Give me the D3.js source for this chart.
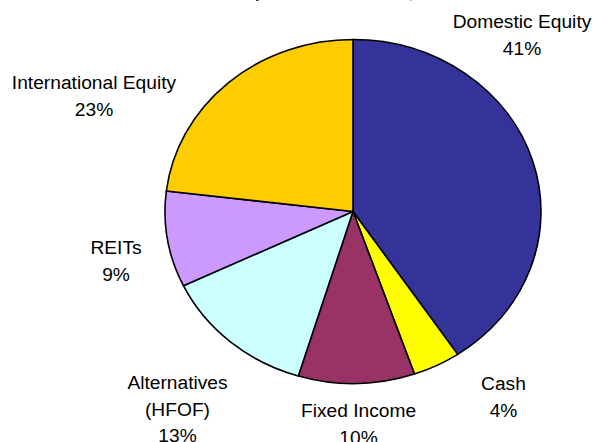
<!DOCTYPE html>
<html>
<head>
<meta charset="utf-8">
<script src="https://cdn.jsdelivr.net/npm/d3@7/dist/d3.min.js"></script>
<style>
  html, body { margin: 0; padding: 0; background: #fff; }
  svg { display: block; }
</style>
</head>
<body>
<svg id="chart" width="598" height="442"></svg>
<script>
// ---- data ----
const categories = ["Domestic Equity", "Cash", "Fixed Income", "Alternatives (HFOF)", "REITs", "International Equity"];
const values = [40.6, 4.1, 10.0, 13.2, 9.0, 23.1];
const colors = ["#333399", "#FFFF00", "#993366", "#CCFFFF", "#CC99FF", "#FFCC00"];
const labelLines = [
  ["Domestic Equity"],
  ["Cash"],
  ["Fixed Income"],
  ["Alternatives", "(HFOF)"],
  ["REITs"],
  ["International Equity"]
];
const titleText = "Proposed Asset Allocation, 2008";

// ---- layout ----
const W = 598, H = 442;
const cx = 353, cy = 211.5, rx = 188, ry = 172;
// label anchor positions (centre x, first baseline y)
const labelPos = [
  [522, 28], [503.5, 390], [358.5, 417], [177.5, 389], [116, 254], [94, 89]
];
const lineH = 26.5;

const svg = d3.select("#chart");

// clipped title (only its descenders are visible in the reference)
svg.append("text")
  .attr("x", 232).attr("y", -2)
  .attr("font-family", "Liberation Sans, Arial, sans-serif")
  .attr("font-weight", "bold")
  .attr("font-size", 14)
  .attr("fill", "#000")
  .text(titleText);

const pie = d3.pie().sort(null).value(d => d).startAngle(0).endAngle(2 * Math.PI);
const arcs = pie(values);
const arc = d3.arc().innerRadius(0).outerRadius(ry);

const g = svg.append("g")
  .attr("transform", `translate(${cx},${cy}) scale(${rx / ry},1)`);

g.selectAll("path.slice")
  .data(arcs)
  .enter().append("path")
  .attr("class", "slice")
  .attr("d", arc)
  .attr("fill", (d, i) => colors[i])
  .attr("stroke", "#000")
  .attr("stroke-width", 1.6)
  .attr("stroke-linejoin", "round")
  .attr("vector-effect", "non-scaling-stroke");

// labels
const lbl = svg.append("g")
  .attr("font-family", "Liberation Sans, Arial, sans-serif")
  .attr("font-size", 19.2)
  .attr("fill", "#000")
  .attr("text-anchor", "middle");

arcs.forEach((d, i) => {
  const lines = labelLines[i].concat([Math.round(values[i]) + "%"]);
  const t = lbl.append("text")
    .attr("x", labelPos[i][0])
    .attr("y", labelPos[i][1]);
  lines.forEach((ln, k) => {
    t.append("tspan")
      .attr("x", labelPos[i][0])
      .attr("dy", k === 0 ? 0 : lineH)
      .text(ln);
  });
});
</script>
</body>
</html>
